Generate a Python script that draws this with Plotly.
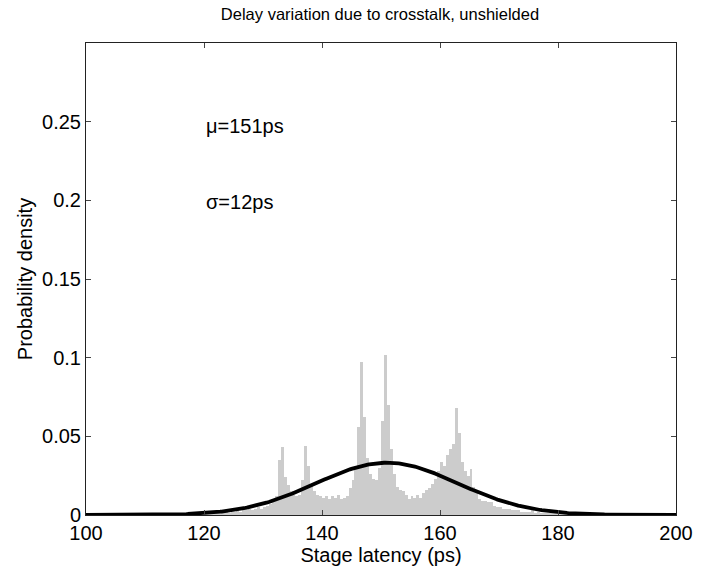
import numpy as np
import plotly.graph_objects as go

# Histogram: bin left edges (ps), bin width 0.5 ps, densities
bin_start = 120.0
bin_width = 0.5
density = [
    0.001, 0.0005, 0.001, 0.001, 0.001, 0.0015, 0.001, 0.002, 0.0015, 0.002,   # 120-124.5
    0.002, 0.003, 0.002, 0.003, 0.003, 0.004, 0.003, 0.004, 0.005, 0.004,      # 125-129.5
    0.005, 0.006, 0.007, 0.008, 0.012, 0.035, 0.043, 0.024, 0.019, 0.015,      # 130-134.5
    0.013, 0.012, 0.013, 0.022, 0.044, 0.031, 0.020, 0.015, 0.013, 0.012,      # 135-139.5
    0.011, 0.012, 0.010, 0.012, 0.011, 0.013, 0.010, 0.011, 0.012, 0.017,      # 140-144.5
    0.022, 0.030, 0.056, 0.097, 0.062, 0.036, 0.026, 0.023, 0.022, 0.030,      # 145-149.5
    0.060, 0.102, 0.070, 0.042, 0.026, 0.018, 0.016, 0.015, 0.013, 0.010,      # 150-154.5
    0.012, 0.011, 0.013, 0.011, 0.014, 0.016, 0.017, 0.020, 0.023, 0.028,      # 155-159.5
    0.034, 0.031, 0.038, 0.042, 0.045, 0.068, 0.052, 0.034, 0.028, 0.025,      # 160-164.5
    0.029, 0.018, 0.014, 0.010, 0.009, 0.009, 0.008, 0.008, 0.006, 0.005,      # 165-169.5
    0.005, 0.004, 0.004, 0.004, 0.003, 0.003, 0.003, 0.002, 0.002, 0.002,      # 170-174.5
    0.002, 0.003, 0.0015, 0.002, 0.001, 0.0015, 0.001, 0.002, 0.001, 0.001,    # 175-179.5
    0.001, 0.0005, 0.001, 0.0005, 0.0005, 0.0005, 0.0005, 0.0003, 0.0003, 0.0003,  # 180-184.5
    0.0002, 0.0002,                                                            # 185-185.5
]

# Fitted normal distribution parameters (from the annotations)
mu = 151.0
sigma = 12.0

x_ticks = [100, 120, 140, 160, 180, 200]
y_ticks = [0, 0.05, 0.1, 0.15, 0.2, 0.25]
y_tick_labels = ["0", "0.05", "0.1", "0.15", "0.2", "0.25"]

centers = [bin_start + bin_width * (i + 0.5) for i in range(len(density))]

xf = np.linspace(100, 200, 401)
yf = np.exp(-0.5 * ((xf - mu) / sigma) ** 2) / (sigma * np.sqrt(2 * np.pi))

font = "Liberation Sans, Arial, Helvetica, sans-serif"

fig = go.Figure()
fig.add_trace(go.Bar(x=centers, y=density, width=bin_width,
                     marker=dict(color="#cccccc", line=dict(width=0)),
                     showlegend=False, hoverinfo="x+y"))
fig.add_trace(go.Scatter(x=xf, y=yf, mode="lines",
                         line=dict(color="black", width=3.8),
                         showlegend=False))

fig.add_annotation(x=120, y=0.247, xref="x", yref="y", text="μ=151ps",
                   showarrow=False, xanchor="left", yanchor="middle",
                   font=dict(family=font, size=20, color="black"))
fig.add_annotation(x=120, y=0.199, xref="x", yref="y", text="σ=12ps",
                   showarrow=False, xanchor="left", yanchor="middle",
                   font=dict(family=font, size=20, color="black"))

fig.update_layout(
    width=705, height=570,
    margin=dict(l=86, r=19, t=43, b=54),
    paper_bgcolor="white", plot_bgcolor="white",
    bargap=0,
    font=dict(family=font, color="black", size=19),
    title=dict(text="Delay variation due to crosstalk, unshielded",
               x=0.539, xanchor="center", y=0.975, yanchor="middle",
               font=dict(family=font, size=16.5, color="black")),
    xaxis=dict(range=[100, 200], tickvals=x_ticks, ticks="inside", ticklen=5,
               showline=True, linecolor="#222", linewidth=1, mirror="ticks",
               showgrid=False, zeroline=False,
               tickfont=dict(size=20),
               title=dict(text="Stage latency (ps)", font=dict(size=20), standoff=0)),
    yaxis=dict(range=[0, 0.3], tickvals=y_ticks, ticktext=y_tick_labels,
               ticks="inside", ticklen=5,
               showline=True, linecolor="#222", linewidth=1, mirror="ticks",
               showgrid=False, zeroline=False,
               tickfont=dict(size=20),
               title=dict(text="Probability density", font=dict(size=20), standoff=4)),
)

fig.write_html("out.html")
